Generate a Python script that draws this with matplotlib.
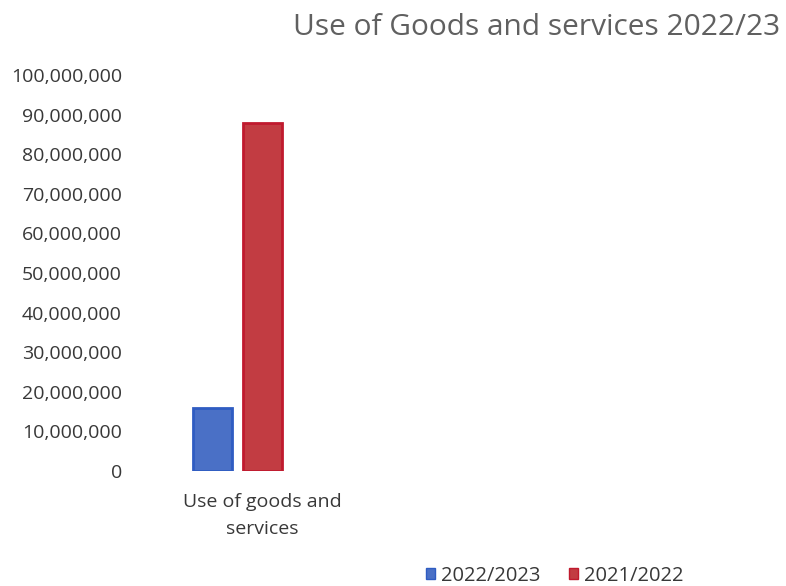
import matplotlib
matplotlib.use("Agg")
import matplotlib.pyplot as plt
import matplotlib.transforms as mtransforms
from matplotlib.ticker import FuncFormatter
from matplotlib.patches import Patch

plt.rcParams['font.family'] = ['Open Sans', 'DejaVu Sans']

categories = ["Use of goods and\nservices"]
series_names = ["2022/2023", "2021/2022"]
values_2022_23 = [15800000]
values_2021_22 = [88000000]
yticks = list(range(0, 100000001, 10000000))

face_colors = ["#4a70c6", "#c23c42"]
edge_colors = ["#2f5cc2", "#c01a2e"]

fig = plt.figure(figsize=(7.86, 5.86), dpi=100)
ax = fig.add_axes([140 / 786, 115 / 586, 640 / 786, 396 / 586])

width = 0.18
gap = 0.05
x = list(range(len(categories)))
for i, (vals, name) in enumerate(zip([values_2022_23, values_2021_22], series_names)):
    offset = (i - 0.5) * (width + gap)
    ax.bar([xi + offset for xi in x], vals, width=width, color=face_colors[i],
           edgecolor=edge_colors[i], linewidth=2, label=name)

ax.set_xlim(-0.45, 2.5)
ax.set_ylim(0, 100000000)
ax.set_yticks(yticks)
ax.yaxis.set_major_formatter(FuncFormatter(lambda v, p: f"{int(v):,}"))
ax.set_xticks(x)
ax.set_xticklabels(categories, linespacing=1.65)

for side in ax.spines.values():
    side.set_visible(False)
ax.tick_params(axis='both', length=0, labelsize=14, colors="#383838")
ax.tick_params(axis='y', pad=13)
ax.tick_params(axis='x', pad=16)

# nudge the category label to the right of the bar pair
shift = mtransforms.ScaledTranslation(25 / 100, 0, fig.dpi_scale_trans)
for lbl in ax.get_xticklabels():
    lbl.set_transform(lbl.get_transform() + shift)

fig.text(0.993, 0.953, "Use of Goods and services 2022/23", ha="right", va="center",
         fontsize=21.5, color="#606060")

handles = [Patch(facecolor=face_colors[i], edgecolor=edge_colors[i]) for i in range(2)]
fig.legend(handles, series_names, loc="center", bbox_to_anchor=(555 / 786, 1 - 576 / 586),
           ncol=2, frameon=False, fontsize=14.5, handlelength=0.45, handleheight=0.45,
           handletextpad=0.3, columnspacing=1.4, labelcolor="#383838")

fig.savefig("out.png", dpi=100)
